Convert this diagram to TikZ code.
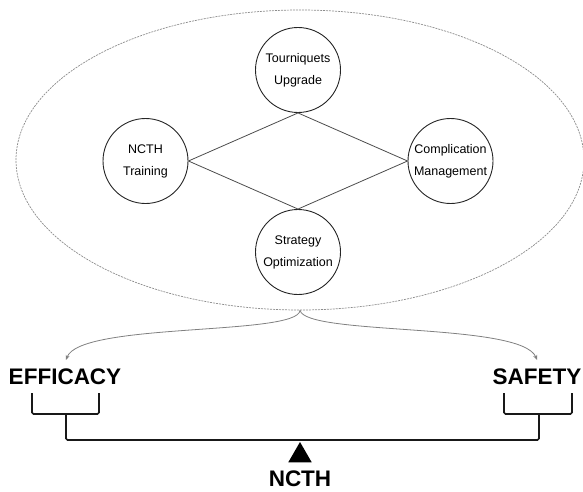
\documentclass[tikz,border=0pt]{standalone}
\usepackage{fontspec}
\setmainfont{Liberation Sans}
\usetikzlibrary{shapes.geometric,arrows.meta}
\tikzset{
  topic/.style={circle, draw=black!85, line width=0.9pt, minimum size=85pt, inner sep=0pt, align=center,
    font=\fontsize{12.5}{22}\selectfont},
  link/.style={draw=black!70, line width=0.8pt},
  group/.style={ellipse, draw=black!45, line width=0.7pt, dash pattern=on 2pt off 1pt, minimum width=568pt, minimum height=300pt},
  flow/.style={draw=black!50, line width=0.8pt, -{Stealth[length=5pt,width=4pt]}},
  pan/.style={font=\fontsize{22.5}{26}\selectfont\bfseries, inner sep=0pt},
  beam/.style={draw=black!90, line width=1.6pt, rounded corners=1.5pt}
}
\begin{document}
\begin{tikzpicture}[x=1pt, y=-1pt]
\useasboundingbox (0,0) rectangle (583,492);
\node[group] (ell) at (300,160) {};
\node[topic] (tour) at (298,70) {Tourniquets\\Upgrade};
\node[topic] (ncth) at (145.5,161) {NCTH\\Training};
\node[topic] (comp) at (450.5,161) {Complication\\Management};
\node[topic] (strat) at (298,252) {Strategy\\Optimization};
\draw[link] (ncth.east) -- (tour.south);
\draw[link] (tour.south) -- (comp.west);
\draw[link] (comp.west) -- (strat.north);
\draw[link] (strat.north) -- (ncth.east);
% balance
\node[pan] (eff) at (65,377) {EFFICACY};
\node[pan] (saf) at (537,377) {SAFETY};
\coordinate (effin) at (66,360);
\coordinate (safin) at (537,360);
\draw[flow] (ell.south) .. controls (298,336) and (80,322) .. (effin);
\draw[flow] (ell.south) .. controls (306,336) and (522,322) .. (safin);
\coordinate (el) at (32,393);
\coordinate (er) at (99,393);
\coordinate (sl) at (504,393);
\coordinate (sr) at (572,393);
\draw[beam] (el) -- (32,414) -- (99,414) -- (er);
\draw[beam] (sl) -- (504,414) -- (572,414) -- (sr);
\draw[beam] (66,414) -- (66,440) -- (539,440) -- (539,414);
\node[regular polygon, regular polygon sides=3, fill=black, minimum size=27pt, inner sep=0pt] (pivot) at (300,455.5) {};
\node[pan] (base) at (300,479) {NCTH};
\end{tikzpicture}
\end{document}
